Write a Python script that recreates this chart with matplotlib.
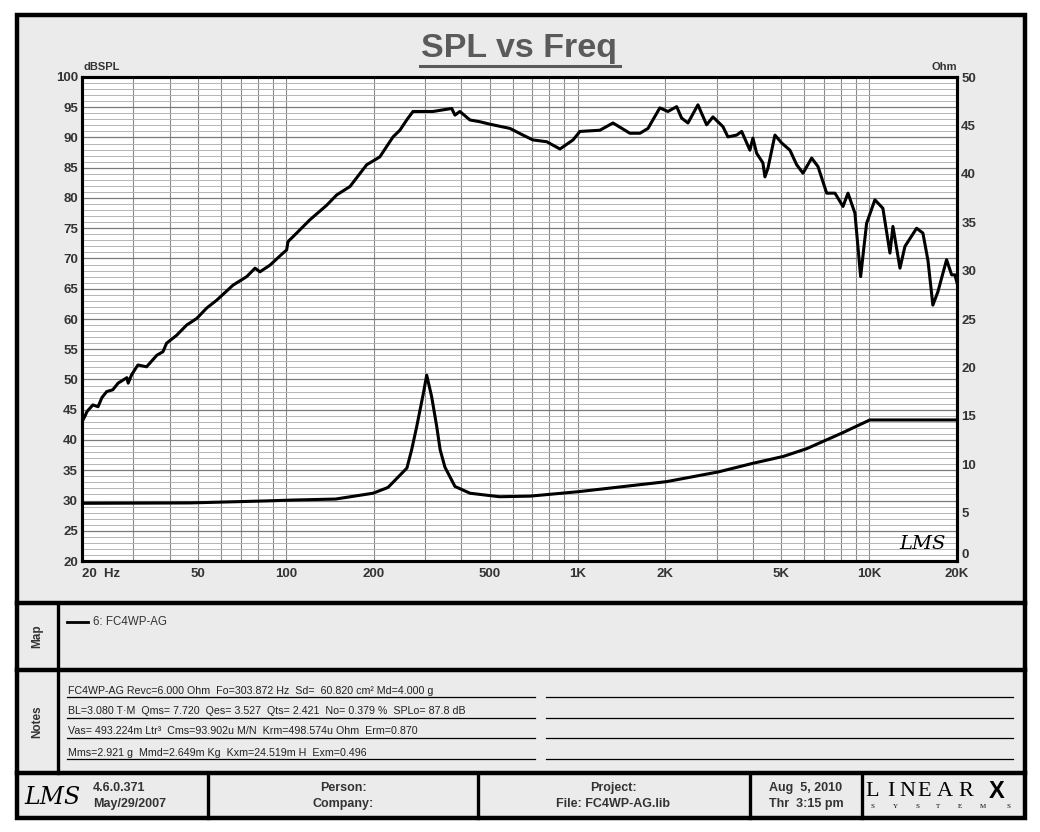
import numpy as np
import matplotlib
matplotlib.use("Agg")
from matplotlib import pyplot as plt
from matplotlib.patches import Rectangle

plt.rcParams['font.family'] = ['Liberation Sans', 'DejaVu Sans']

# SPL response (Hz, dBSPL)
spl_freq = [20, 20.5, 20.8, 21.8, 22.7, 23.4, 24.3, 25.5, 26.6, 28.5, 28.8, 29.6, 31.1, 33.3,
            36.1, 37.9, 39.0, 42.2, 45.7, 49.5, 53.5, 57.9, 65.9, 73.4, 78.4, 81.5, 88.2,
            97.8, 100.6, 101.7, 105.8, 120.9, 138, 149.3, 165.9, 189.3, 202, 210, 233, 246,
            259.6, 272.8, 319.5, 370.3, 380, 395, 427.7, 463, 500.6, 586.6, 650, 703, 784,
            870.6, 965, 1019, 1193, 1323, 1512, 1637, 1744, 1915, 2041, 2187, 2275, 2391,
            2587, 2771, 2913, 3151, 3278, 3512, 3654, 3899, 3993, 4112, 4321, 4390, 4495,
            4751, 5010, 5349, 5640, 5928, 6350, 6674, 7149, 7632, 8131, 8458, 8934, 9346,
            9796, 10460, 11140, 11780, 12060, 12750, 13260, 14540, 15280, 15900, 16530,
            17200, 18420, 19170, 19670, 20000]
spl_db = [43.0, 44.0, 44.7, 45.8, 45.5, 47.0, 48.0, 48.3, 49.4, 50.3, 49.4, 50.8, 52.4, 52.1,
          54.0, 54.6, 56.0, 57.3, 59.0, 60.1, 61.8, 63.1, 65.6, 67.0, 68.4, 67.8, 68.9,
          70.9, 71.4, 72.8, 73.6, 76.4, 78.8, 80.5, 81.9, 85.5, 86.3, 86.8, 90.1, 91.2,
          92.9, 94.3, 94.3, 94.8, 93.7, 94.3, 92.9, 92.6, 92.2, 91.5, 90.4, 89.6, 89.3,
          88.1, 89.6, 91.0, 91.2, 92.4, 90.7, 90.7, 91.5, 94.9, 94.3, 95.1, 93.2, 92.4,
          95.4, 92.1, 93.4, 91.8, 90.1, 90.4, 91.0, 87.9, 89.9, 87.4, 85.8, 83.5, 84.9,
          90.4, 89.1, 87.9, 85.5, 84.1, 86.6, 85.2, 80.8, 80.8, 78.6, 80.8, 77.5, 67.0,
          75.8, 79.7, 78.3, 70.9, 75.3, 68.4, 72.0, 75.0, 74.2, 69.7, 62.3,
          64.5, 69.8, 67.3, 67.3, 66.0]

# impedance (Hz, Ohm)
imp_freq = [20, 47, 84, 107, 148, 199, 224, 260, 270, 281, 296, 304, 316, 329, 338, 351, 380,
            428, 540, 687, 1006, 2021, 3037, 4002, 5070, 6100, 8040, 10050, 20000]
imp_ohm = [5.96, 6.0, 6.2, 6.3, 6.4, 7.0, 7.6, 9.6, 11.5, 13.9, 17.3, 19.2, 17.0, 13.9, 11.5,
           9.7, 7.7, 7.0, 6.64, 6.7, 7.16, 8.2, 9.2, 10.1, 10.8, 11.6, 13.2, 14.57, 14.57]

x_ticks = [20, 50, 100, 200, 500, 1000, 2000, 5000, 10000, 20000]
x_labels = ['20  Hz', '50', '100', '200', '500', '1K', '2K', '5K', '10K', '20K']
x_minor = [m * d for d in (10, 100, 1000) for m in range(2, 10)] + [10000]
x_minor = [v for v in x_minor if 20 <= v <= 20000 and v not in x_ticks]

notes = ["FC4WP-AG Revc=6.000 Ohm  Fo=303.872 Hz  Sd=  60.820 cm² Md=4.000 g",
         "BL=3.080 T·M  Qms= 7.720  Qes= 3.527  Qts= 2.421  No= 0.379 %  SPLo= 87.8 dB",
         "Vas= 493.224m Ltr³  Cms=93.902u M/N  Krm=498.574u Ohm  Erm=0.870",
         "Mms=2.921 g  Mmd=2.649m Kg  Kxm=24.519m H  Exm=0.496"]

W, H = 1040, 832
fig = plt.figure(figsize=(W / 100, H / 100), dpi=100)
fig.patch.set_facecolor('white')

# page frame, drawn in pixel coords
bg = fig.add_axes([0, 0, 1, 1], zorder=0)
bg.set_xlim(0, W)
bg.set_ylim(H, 0)
bg.axis('off')
bg.add_patch(Rectangle((17, 15), 1008, 803, facecolor='#ebebeb', edgecolor='black', lw=3.2))
for yy in (603, 670, 773):
    bg.plot([17, 1025], [yy, yy], color='black', lw=3.2)
bg.plot([58, 58], [603, 773], color='black', lw=2.4)
for xx in (208, 478, 750, 862):
    bg.plot([xx, xx], [773, 818], color='black', lw=2.4)

tcol = '#333333'
bg.text(519, 49, 'SPL vs Freq', ha='center', va='center', fontsize=24.5, fontweight='bold',
        color='#5a5a5a')
bg.plot([420, 620], [65.5, 65.5], color='#5a5a5a', lw=2.2)
bg.text(83, 67, 'dBSPL', ha='left', va='center', fontsize=8, fontweight='bold', color=tcol)
bg.text(957, 67, 'Ohm', ha='right', va='center', fontsize=8, fontweight='bold', color=tcol)

# map row
bg.text(37, 636, 'Map', rotation=90, ha='center', va='center', fontsize=8.5,
        fontweight='bold', color=tcol)
bg.plot([67, 88], [622, 622], color='black', lw=2)
bg.text(93, 622, '6: FC4WP-AG', ha='left', va='center', fontsize=8.3, color=tcol)

# notes row
bg.text(37, 722, 'Notes', rotation=90, ha='center', va='center', fontsize=8.5,
        fontweight='bold', color=tcol)
for yy, s in zip((697, 718, 738, 759), notes):
    bg.plot([67, 535], [yy, yy], color='black', lw=0.9)
    bg.plot([546, 1013], [yy, yy], color='black', lw=0.9)
    bg.text(68, yy - 1.5, s, ha='left', va='bottom', fontsize=7.7, color='#222222')

# footer
fk = dict(fontsize=9, fontweight='bold', color=tcol, va='center')
bg.text(52, 797, 'LMS', ha='center', va='center', fontsize=17, style='italic',
        family='DejaVu Serif', color='black')
bg.text(93, 788, '4.6.0.371', ha='left', **fk)
bg.text(93, 804, 'May/29/2007', ha='left', **fk)
bg.text(343, 788, 'Person:', ha='center', **fk)
bg.text(343, 804, 'Company:', ha='center', **fk)
bg.text(613, 788, 'Project:', ha='center', **fk)
bg.text(613, 804, 'File: FC4WP-AG.lib', ha='center', **fk)
bg.text(806, 788, 'Aug  5, 2010', ha='center', **fk)
bg.text(806, 804, 'Thr  3:15 pm', ha='center', **fk)
for ch, xx in zip('LINEAR', (872, 891, 907, 924, 945, 966)):
    bg.text(xx, 791, ch, ha='center', va='center', fontsize=16, family='Liberation Serif',
            color='black')
bg.text(997, 791, 'X', ha='center', va='center', fontsize=17, fontweight='bold',
        family='Liberation Sans', color='black')
for ch, xx in zip('SYSTEMS', (872, 895, 917, 938, 960, 983, 1008)):
    bg.text(xx, 806, ch, ha='center', va='center', fontsize=5, family='Liberation Serif',
            color='black')

# main chart
ax = fig.add_axes([82 / W, 1 - 561 / H, 875 / W, 484 / H], zorder=2)
ax.set_facecolor('white')
ax.set_xscale('log')
ax.set_xlim(20, 20000)
ax.set_ylim(20, 100)
ax.set_xticks(x_ticks)
ax.set_xticklabels(x_labels)
ax.set_xticks(x_minor, minor=True)
ax.set_yticks(np.arange(20, 101, 5))
ax.set_yticks(np.arange(20, 101, 1), minor=True)
ax.tick_params(which='both', length=0)
ax.tick_params(axis='x', pad=5, labelsize=9.5, labelcolor=tcol)
ax.tick_params(axis='y', pad=3, labelsize=9.5, labelcolor=tcol)
for lab in ax.get_xticklabels() + ax.get_yticklabels():
    lab.set_fontweight('bold')
ax.get_xticklabels()[0].set_ha('left')
ax.xaxis.grid(True, which='both', color='#8a8a8a', lw=0.8)
ax.yaxis.grid(True, which='minor', color='#b4b4b4', lw=0.7)
ax.yaxis.grid(True, which='major', color='#7a7a7a', lw=0.9)
ax.set_axisbelow(True)
for sp in ax.spines.values():
    sp.set_linewidth(2.2)
    sp.set_color('black')

ax.plot(spl_freq, spl_db, color='black', lw=2.2, zorder=3)

ax2 = ax.twinx()
ax2.set_ylim(0, 50)
ax2.set_yticks(np.arange(0, 51, 5))
ax2.tick_params(length=0, pad=3, labelsize=9.5, labelcolor=tcol)
for lab in ax2.get_yticklabels():
    lab.set_fontweight('bold')
ax2.get_yticklabels()[0].set_va('bottom')
for sp in ax2.spines.values():
    sp.set_linewidth(2.2)
ax2.plot(imp_freq, imp_ohm, color='black', lw=2.2, zorder=3)

ax.text(0.96, 0.035, 'LMS', transform=ax.transAxes, ha='center', va='center', fontsize=14,
        style='italic', family='DejaVu Serif', color='black')

fig.savefig('out.png', dpi=100)
